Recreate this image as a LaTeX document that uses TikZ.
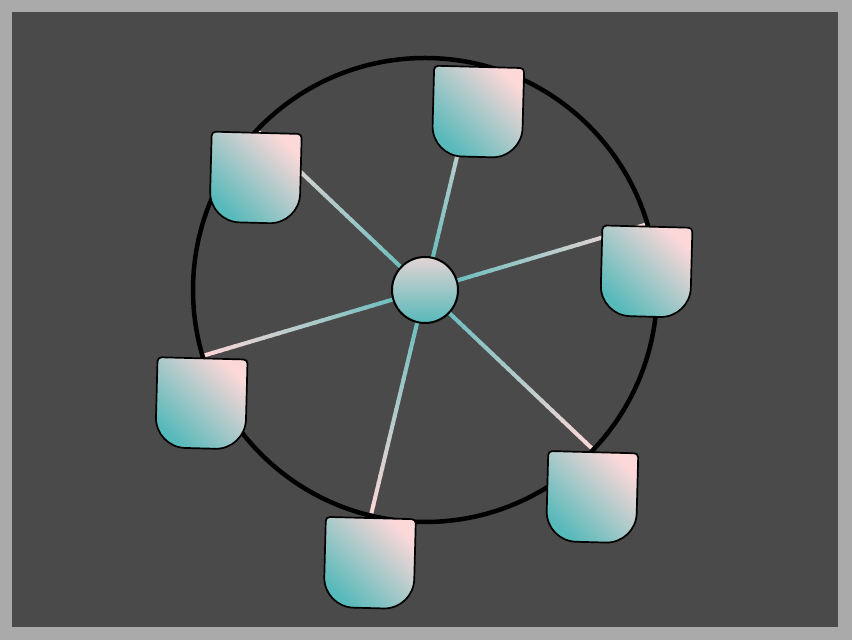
\documentclass[tikz,border=0pt]{standalone}
\usetikzlibrary{calc}
\definecolor{framegray}{HTML}{AAAAAA}
\definecolor{bgdark}{HTML}{4A4A4A}
\definecolor{tealc}{RGB}{86,185,186}
\definecolor{pinkc}{RGB}{252,216,216}
\tikzset{
  rimline/.style={line width=4.5pt, draw=black},
  hubnode/.style={circle, minimum size=66pt, inner sep=0pt, draw=black, line width=2pt, top color=pinkc!85!tealc, bottom color=tealc},
  cupshape/.style={draw=black, line width=1.7pt, shading=axis, top color=pinkc, bottom color=tealc, shading angle=-45},
  spokeseg/.style={line width=4pt}
}
\begin{document}
\begin{tikzpicture}[x=1pt,y=1pt]
\useasboundingbox (0,0) rectangle (852,640);
\fill[framegray] (0,0) rectangle (852,640);
\fill[bgdark] (12,13) rectangle (838,628);
\coordinate (c) at (425,350);
\draw[rimline] (c) circle[radius=232];
\foreach \k in {0,...,5}{
  \coordinate (r\k) at ($(c)+(16.5+60*\k:232)$);
  \coordinate (e\k) at ($(c)+(16.5+60*\k:228)$);
}
% spokes
\foreach \k in {0,...,5}{
  \foreach \i in {0,...,29}{
    \pgfmathsetmacro{\pa}{\i/30}
    \pgfmathsetmacro{\pb}{(\i+1.2)/30}
    \pgfmathsetmacro{\pc}{100*(\i+0.5)/30}
    \draw[spokeseg, color=pinkc!\pc!tealc] ($(c)!\pa!(e\k)$) -- ($(c)!\pb!(e\k)$);
  }
}
\node[hubnode] (hub) at (c) {};
% gondolas
\foreach \k in {0,...,5}{
  \begin{scope}[shift={($(r\k)+(0,-2.5)$)}, rotate=-1.5]
    \path[cupshape] (-45,-4) arc[start angle=180, end angle=90, radius=4]
      -- (41,0) arc[start angle=90, end angle=0, radius=4]
      -- (45,-60) arc[start angle=0, end angle=-90, radius=30]
      -- (-15,-90) arc[start angle=270, end angle=180, radius=30]
      -- cycle;
  \end{scope}
}
\end{tikzpicture}
\end{document}
